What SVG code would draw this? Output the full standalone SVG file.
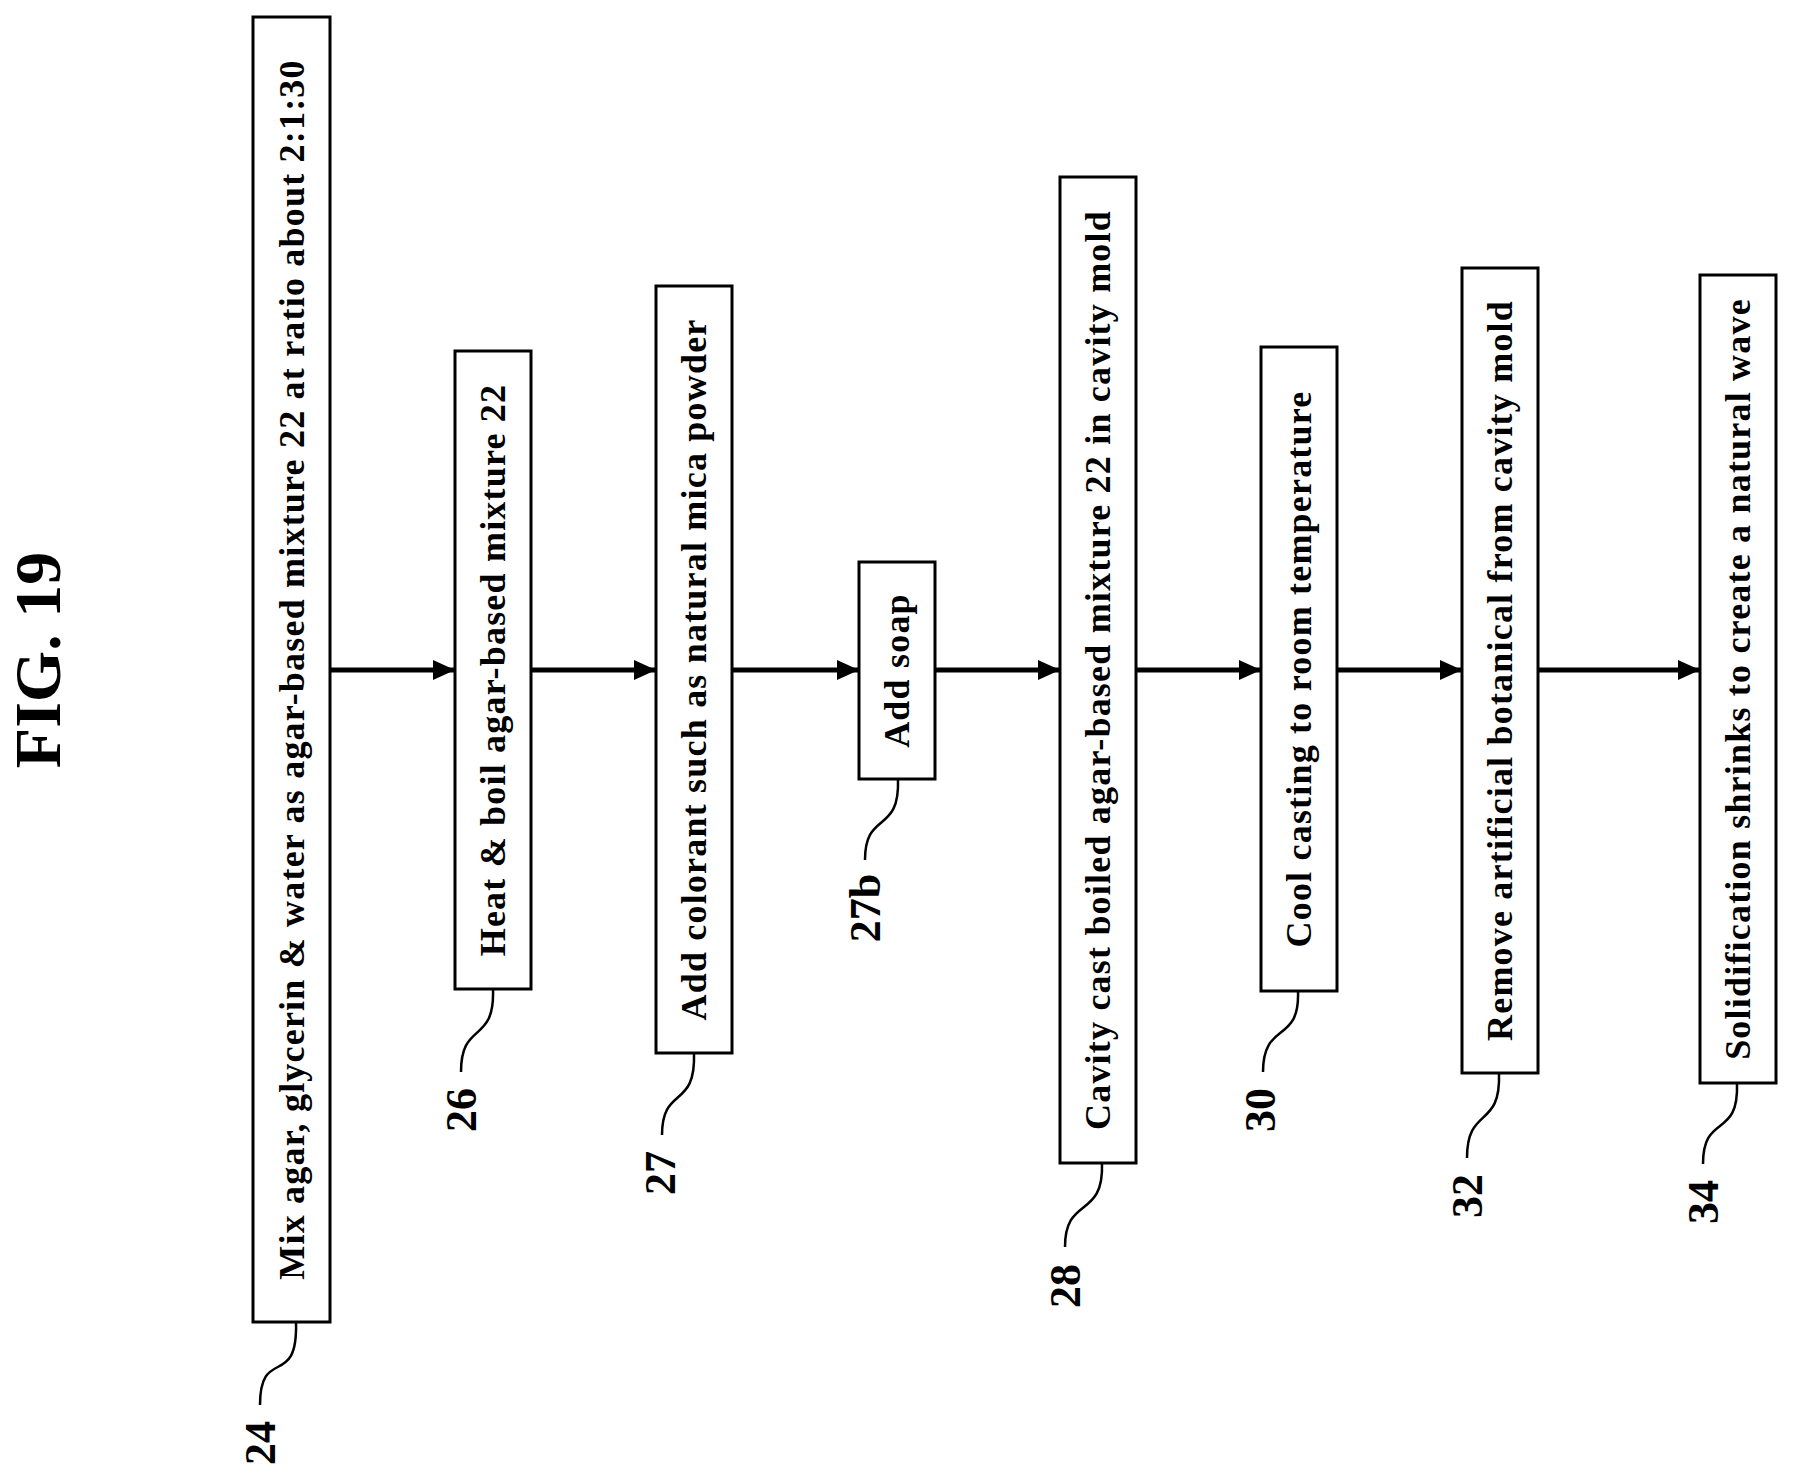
<svg xmlns="http://www.w3.org/2000/svg" width="1794" height="1480" viewBox="0 0 1794 1480">
<style>
rect{fill:#fff;stroke:#000;stroke-width:3}
text{font-family:"Liberation Serif",serif;font-weight:bold;fill:#000}
.t{font-size:36px;letter-spacing:1.2px;text-anchor:middle;dominant-baseline:central}
.l{font-size:44px;text-anchor:middle;dominant-baseline:central}
.c path{stroke:#000;fill:none}
.a{stroke-width:5}
.k{stroke-width:2.5}
</style>
<defs>
<marker id="ah2" markerWidth="22" markerHeight="20" refX="22" refY="10" orient="auto" markerUnits="userSpaceOnUse"><path d="M0,0 L22,10 L0,20 Z" fill="#000"/></marker></defs>
<text transform="translate(37,660) rotate(-90)" style="font-size:66px;text-anchor:middle;dominant-baseline:central">FIG. 19</text>
<g transform="translate(-5,0)">
<g id="n24"><rect x="258" y="17" width="77" height="1305"/><text class="t" transform="translate(296.5,669.5) rotate(-90)">Mix agar, glycerin &amp; water as agar-based mixture 22 at ratio about 2:1:30</text><text class="l" transform="translate(265,1443) rotate(-90)">24</text></g>
<g id="n26"><rect x="460" y="351" width="76" height="638"/><text class="t" transform="translate(498,670) rotate(-90)">Heat &amp; boil agar-based mixture 22</text><text class="l" transform="translate(466,1110) rotate(-90)">26</text></g>
<g id="n27"><rect x="661" y="286" width="76" height="767"/><text class="t" transform="translate(699,669.5) rotate(-90)">Add colorant such as natural mica powder</text><text class="l" transform="translate(665,1173) rotate(-90)">27</text></g>
<g id="n27b"><rect x="864" y="562" width="76" height="217"/><text class="t" transform="translate(902,670.5) rotate(-90)">Add soap</text><text class="l" transform="translate(870,908) rotate(-90)">27b</text></g>
<g id="n28"><rect x="1065" y="177" width="76" height="986"/><text class="t" transform="translate(1103,670) rotate(-90)">Cavity cast boiled agar-based mixture 22 in cavity mold</text><text class="l" transform="translate(1070,1286) rotate(-90)">28</text></g>
<g id="n30"><rect x="1266" y="347" width="76" height="644"/><text class="t" transform="translate(1304,669) rotate(-90)">Cool casting to room temperature</text><text class="l" transform="translate(1265,1110) rotate(-90)">30</text></g>
<g id="n32"><rect x="1467" y="268" width="76" height="805"/><text class="t" transform="translate(1505,670.5) rotate(-90)">Remove artificial botanical from cavity mold</text><text class="l" transform="translate(1472,1196) rotate(-90)">32</text></g>
<g id="n34"><rect x="1705" y="275" width="76" height="808"/><text class="t" transform="translate(1743,679) rotate(-90)">Solidification shrinks to create a natural wave</text><text class="l" transform="translate(1708,1202) rotate(-90)">34</text></g>
<g class="c">
<path class="a" d="M335,670 H460" marker-end="url(#ah2)"/>
<path class="a" d="M536,670 H661" marker-end="url(#ah2)"/>
<path class="a" d="M737,670 H864" marker-end="url(#ah2)"/>
<path class="a" d="M940,670 H1065" marker-end="url(#ah2)"/>
<path class="a" d="M1141,670 H1266" marker-end="url(#ah2)"/>
<path class="a" d="M1342,670 H1467" marker-end="url(#ah2)"/>
<path class="a" d="M1543,670 H1705" marker-end="url(#ah2)"/>
<path class="k" d="M301,1322 C303,1390 265,1345 265,1405"/>
<path class="k" d="M498,989 C500,1045 466,1020 466,1072"/>
<path class="k" d="M699,1053 C701,1110 667,1085 667,1135"/>
<path class="k" d="M903,779 C905,835 870,810 870,860"/>
<path class="k" d="M1107,1163 C1109,1220 1070,1195 1070,1247"/>
<path class="k" d="M1303,991 C1305,1045 1268,1020 1268,1072"/>
<path class="k" d="M1504,1073 C1506,1130 1472,1105 1472,1158"/>
<path class="k" d="M1742,1083 C1744,1140 1708,1112 1708,1164"/>
</g>
</g>
</svg>
